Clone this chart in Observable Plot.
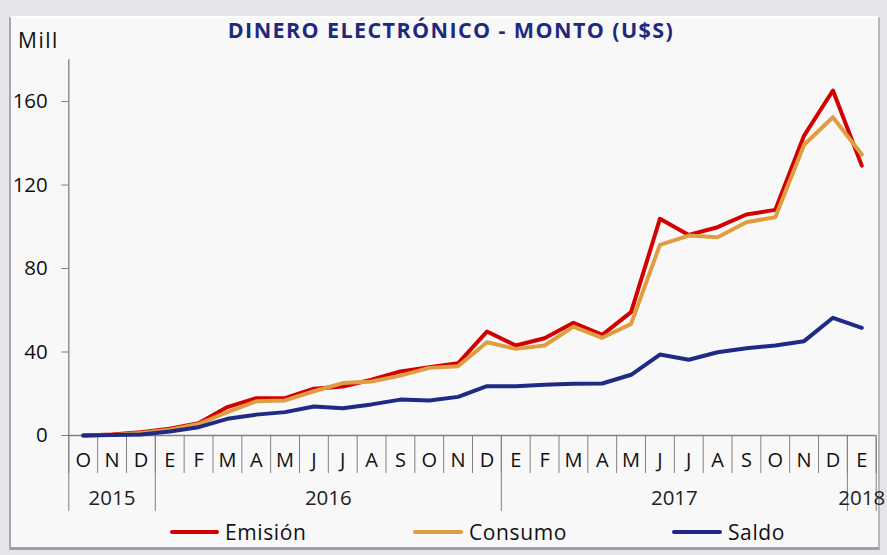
<!DOCTYPE html>
<html>
<head>
<meta charset="utf-8">
<script src="https://cdn.jsdelivr.net/npm/d3@7"></script>
<script src="https://cdn.jsdelivr.net/npm/@observablehq/plot@0.6"></script>
<style>
  html, body { margin: 0; padding: 0; }
  body { width: 887px; height: 555px; background: #e5e5ea; position: relative; overflow: hidden; font-family: "Open Sans", sans-serif; }
  #panel { position: absolute; left: 9px; top: 16px; width: 871px; height: 534px; background: #f8f8f8;
           border-top: 2px solid #ffffff; border-left: 2px solid #a8a8ac; border-right: 2px solid #b8b8bc; border-bottom: 3px solid #a0a0a4; box-sizing: border-box; }
  #chart { position: absolute; left: 0; top: 0; }
  #title { position: absolute; left: 0; width: 902px; top: 15px; text-align: center; font-weight: 700; font-size: 21.5px; letter-spacing: 1.4px; color: #1f2a7f; white-space: nowrap; }
  #mill { position: absolute; left: 18px; top: 26px; font-size: 21px; letter-spacing: 1.5px; color: #111; }
  .leg { position: absolute; top: 518px; height: 28px; display: flex; align-items: center; font-size: 21px; letter-spacing: 0.6px; color: #111; }
  .leg span.sw { display: inline-block; height: 4px; border-radius: 2px; margin-right: 6px; }
</style>
</head>
<body>
<div id="panel"></div>
<div id="chart"></div>
<div id="title">DINERO ELECTRÓNICO - MONTO (U$S)</div>
<div id="mill">Mill</div>
<div id="legend"></div>
<script>
// ---- data ----
const months = ["O","N","D","E","F","M","A","M","J","J","A","S","O","N","D","E","F","M","A","M","J","J","A","S","O","N","D","E"];
const years = ["2015","2016","2017","2018"];
const yearStart = [0, 3, 15, 27];           // month index at which each year begins
const seriesNames = ["Emisión", "Consumo", "Saldo"];
const seriesColors = ["#d20000", "#e09c40", "#1f2a85"];
const emision = [0, 0.5, 1.6, 3.2, 5.9, 13.6, 17.9, 17.9, 22.4, 23.5, 26.7, 30.7, 32.7, 34.6, 49.8,
                 43.1, 46.6, 54.0, 48.2, 59.1, 103.8, 96.1, 99.8, 105.9, 108.1, 143.7, 165.3, 129.3];
const consumo = [0, 0.3, 1.2, 2.8, 5.5, 11.2, 16.4, 16.8, 21.2, 25.1, 25.9, 28.7, 32.4, 33.2, 44.7,
                 41.5, 43.1, 52.2, 46.8, 53.5, 91.3, 95.8, 95.0, 102.2, 104.6, 139.3, 152.5, 134.6];
const saldo   = [0, 0.2, 0.5, 1.9, 4.0, 8.0, 10.0, 11.2, 13.9, 13.1, 14.9, 17.2, 16.8, 18.5, 23.6,
                 23.6, 24.3, 24.8, 24.9, 29.1, 38.8, 36.3, 39.9, 41.8, 43.1, 45.2, 56.4, 51.6];
const yTicks = [0, 40, 80, 120, 160];

// ---- table ----
const seriesValues = [emision, consumo, saldo];
const rows = seriesNames.flatMap((s, k) => seriesValues[k].map((v, i) => ({i, v, serie: s})));
const n = months.length;
const monthIdx = d3.range(n);
const monthBounds = d3.range(n + 1).map(k => k - 0.5);
const yearBounds = [...yearStart, n].map(k => k - 0.5);
const yearCenters = yearStart.map((s, j) => ((s + (yearStart[j + 1] ?? n)) / 2) - 0.5);

const font = "Open Sans, sans-serif";
const axisColor = "#808080";

const plot = Plot.plot({
  width: 887,
  height: 555,
  marginLeft: 68.3,
  marginRight: 11.3,
  marginTop: 59.3,
  marginBottom: 120,
  style: {background: "transparent", fontFamily: font, fontSize: "20px", color: "#111", overflow: "visible"},
  x: {domain: [-0.5, n - 0.5], axis: null},
  y: {domain: [0, 180], axis: null},
  color: {domain: seriesNames, range: seriesColors},
  marks: [
    // axis lines
    Plot.ruleX([-0.5], {y1: 0, y2: 180, stroke: axisColor, strokeWidth: 1.3}),
    Plot.ruleY([0], {stroke: axisColor, strokeWidth: 1.3}),
    Plot.axisY(yTicks, {anchor: "left", tickSize: 7, tickPadding: 14, stroke: axisColor, fontSize: 20.5, fill: "#111", label: null}),
    // month separators
    Plot.axisX(monthBounds, {anchor: "bottom", tickSize: 38, stroke: axisColor, tickFormat: () => "", label: null}),
    // year separators
    Plot.axisX(yearBounds, {anchor: "bottom", tickSize: 76, stroke: axisColor, tickFormat: () => "", label: null}),
    // month labels
    Plot.axisX(monthIdx, {anchor: "bottom", tickSize: 0, tickPadding: 17.5, tickFormat: i => months[i], fontSize: 20, fill: "#111", label: null}),
    // year labels
    Plot.axisX(yearCenters, {anchor: "bottom", tickSize: 0, tickPadding: 55.4, tickFormat: (c, j) => years[j], fontSize: 20.5, fill: "#222", label: null}),
    // series
    Plot.line(rows, {x: "i", y: "v", z: "serie", stroke: "serie", strokeWidth: 4, strokeLinejoin: "round", strokeLinecap: "round"})
  ]
});
document.getElementById("chart").appendChild(plot);

// ---- legend ----
const legendPos = [[170, 49], [413, 50], [672, 50]];
const leg = document.getElementById("legend");
seriesNames.forEach((s, k) => {
  const d = document.createElement("div");
  d.className = "leg";
  d.style.left = legendPos[k][0] + "px";
  d.innerHTML = `<span class="sw" style="width:${legendPos[k][1]}px;background:${plot.scale("color").apply(s)}"></span>${s}`;
  leg.appendChild(d);
});
</script>
</body>
</html>
